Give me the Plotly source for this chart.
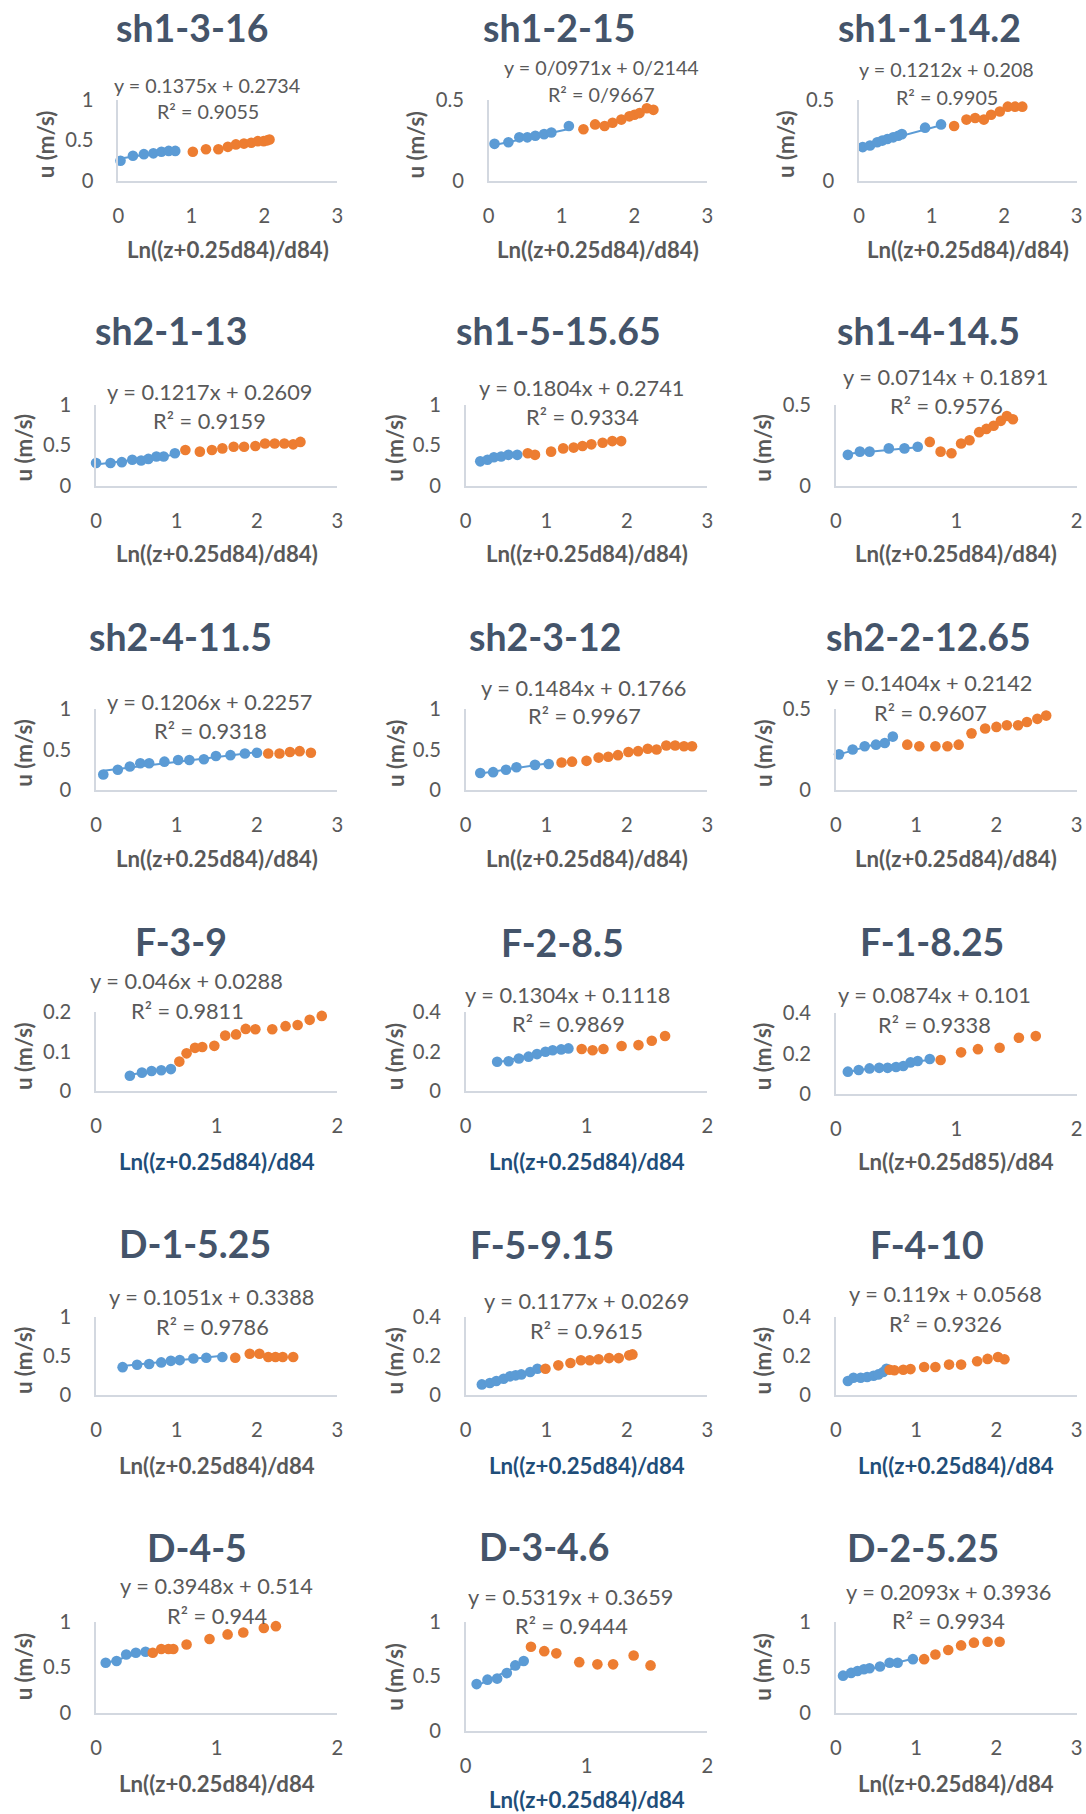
import plotly.graph_objects as go

# ---------------- DATA ----------------
TITLES = ["sh1-3-16", "sh1-2-15", "sh1-1-14.2",
          "sh2-1-13", "sh1-5-15.65", "sh1-4-14.5",
          "sh2-4-11.5", "sh2-3-12", "sh2-2-12.65",
          "F-3-9", "F-2-8.5", "F-1-8.25",
          "D-1-5.25", "F-5-9.15", "F-4-10",
          "D-4-5", "D-3-4.6", "D-2-5.25"]

X_TITLES = ["Ln((z+0.25d84)/d84)"] * 9 + [
    "Ln((z+0.25d84)/d84", "Ln((z+0.25d84)/d84", "Ln((z+0.25d85)/d84",
    "Ln((z+0.25d84)/d84", "Ln((z+0.25d84)/d84", "Ln((z+0.25d84)/d84",
    "Ln((z+0.25d84)/d84", "Ln((z+0.25d84)/d84", "Ln((z+0.25d84)/d84"]
Y_TITLE = "u (m/s)"

SLOPES = [0.1375, 0.0971, 0.1212, 0.1217, 0.1804, 0.0714, 0.1206, 0.1484, 0.1404,
          0.046, 0.1304, 0.0874, 0.1051, 0.1177, 0.119, 0.3948, 0.5319, 0.2093]
INTERCEPTS = [0.2734, 0.2144, 0.208, 0.2609, 0.2741, 0.1891, 0.2257, 0.1766, 0.2142,
              0.0288, 0.1118, 0.101, 0.3388, 0.0269, 0.0568, 0.514, 0.3659, 0.3936]
EQ_TEXT = ["y = 0.1375x + 0.2734", "y = 0/0971x + 0/2144", "y = 0.1212x + 0.208",
           "y = 0.1217x + 0.2609", "y = 0.1804x + 0.2741", "y = 0.0714x + 0.1891",
           "y = 0.1206x + 0.2257", "y = 0.1484x + 0.1766", "y = 0.1404x + 0.2142",
           "y = 0.046x + 0.0288", "y = 0.1304x + 0.1118", "y = 0.0874x + 0.101",
           "y = 0.1051x + 0.3388", "y = 0.1177x + 0.0269", "y = 0.119x + 0.0568",
           "y = 0.3948x + 0.514", "y = 0.5319x + 0.3659", "y = 0.2093x + 0.3936"]
R2_TEXT = ["R² = 0.9055", "R² = 0/9667", "R² = 0.9905",
           "R² = 0.9159", "R² = 0.9334", "R² = 0.9576",
           "R² = 0.9318", "R² = 0.9967", "R² = 0.9607",
           "R² = 0.9811", "R² = 0.9869", "R² = 0.9338",
           "R² = 0.9786", "R² = 0.9615", "R² = 0.9326",
           "R² = 0.944", "R² = 0.9444", "R² = 0.9934"]

X_MAX = [3, 3, 3, 3, 3, 2, 3, 3, 3, 2, 2, 2, 3, 3, 3, 2, 2, 3]
Y_MAX = [1, 0.5, 0.5, 1, 1, 0.5, 1, 1, 0.5, 0.2, 0.4, 0.4, 1, 0.4, 0.4, 1, 1, 1]
Y_STEP = [0.5, 0.5, 0.5, 0.5, 0.5, 0.5, 0.5, 0.5, 0.5, 0.1, 0.2, 0.2, 0.5, 0.2, 0.2, 0.5, 0.5, 0.5]

p1_bx = [0.03, 0.20, 0.35, 0.48, 0.59, 0.69, 0.78]
p1_by = [0.25, 0.31, 0.33, 0.34, 0.36, 0.37, 0.37]
p1_ox = [1.02, 1.20, 1.37, 1.50, 1.61, 1.72, 1.82, 1.91, 1.99, 2.04, 2.07]
p1_oy = [0.36, 0.39, 0.39, 0.42, 0.45, 0.46, 0.47, 0.49, 0.49, 0.50, 0.51]

p2_bx = [0.08, 0.27, 0.42, 0.53, 0.64, 0.76, 0.86, 1.10]
p2_by = [0.23, 0.24, 0.27, 0.27, 0.28, 0.29, 0.30, 0.34]
p2_ox = [1.30, 1.46, 1.59, 1.70, 1.82, 1.93, 2.00, 2.07, 2.17, 2.26]
p2_oy = [0.32, 0.35, 0.34, 0.36, 0.38, 0.40, 0.41, 0.42, 0.45, 0.44]

p3_bx = [0.05, 0.15, 0.25, 0.32, 0.39, 0.47, 0.54, 0.59, 0.91, 1.13]
p3_by = [0.21, 0.22, 0.24, 0.25, 0.26, 0.27, 0.28, 0.29, 0.33, 0.35]
p3_ox = [1.31, 1.48, 1.60, 1.72, 1.82, 1.94, 2.05, 2.15, 2.25]
p3_oy = [0.34, 0.38, 0.39, 0.38, 0.41, 0.43, 0.46, 0.46, 0.46]

p4_bx = [0.0, 0.18, 0.32, 0.45, 0.56, 0.65, 0.75, 0.84, 0.98]
p4_by = [0.28, 0.28, 0.29, 0.32, 0.31, 0.33, 0.36, 0.36, 0.40]
p4_ox = [1.11, 1.29, 1.44, 1.57, 1.71, 1.84, 1.98, 2.10, 2.22, 2.34, 2.45, 2.54]
p4_oy = [0.44, 0.42, 0.44, 0.46, 0.48, 0.48, 0.49, 0.52, 0.52, 0.52, 0.51, 0.54]

p5_bx = [0.18, 0.27, 0.35, 0.44, 0.53, 0.64]
p5_by = [0.30, 0.32, 0.35, 0.36, 0.38, 0.38]
p5_ox = [0.77, 0.86, 1.06, 1.21, 1.34, 1.45, 1.56, 1.70, 1.82, 1.93]
p5_oy = [0.40, 0.38, 0.42, 0.46, 0.47, 0.49, 0.51, 0.53, 0.55, 0.55]

p6_bx = [0.10, 0.20, 0.28, 0.44, 0.57, 0.68]
p6_by = [0.19, 0.21, 0.21, 0.23, 0.23, 0.24]
p6_ox = [0.78, 0.87, 0.96, 1.04, 1.11, 1.19, 1.25, 1.31, 1.37, 1.42, 1.47]
p6_oy = [0.27, 0.21, 0.20, 0.26, 0.28, 0.33, 0.35, 0.37, 0.40, 0.43, 0.41]

p7_bx = [0.09, 0.27, 0.42, 0.55, 0.66, 0.85, 1.02, 1.16, 1.34, 1.49, 1.67, 1.85, 2.00]
p7_by = [0.19, 0.25, 0.29, 0.33, 0.33, 0.35, 0.37, 0.37, 0.38, 0.42, 0.43, 0.45, 0.46]
p7_ox = [2.14, 2.28, 2.41, 2.53, 2.67]
p7_oy = [0.45, 0.45, 0.47, 0.48, 0.46]

p8_bx = [0.18, 0.34, 0.50, 0.63, 0.86, 1.03]
p8_by = [0.21, 0.22, 0.25, 0.28, 0.31, 0.32]
p8_ox = [1.19, 1.32, 1.50, 1.65, 1.77, 1.89, 2.02, 2.14, 2.26, 2.37, 2.49, 2.60, 2.71, 2.81]
p8_oy = [0.34, 0.35, 0.36, 0.40, 0.41, 0.43, 0.47, 0.48, 0.51, 0.50, 0.55, 0.55, 0.54, 0.54]

p9_bx = [0.04, 0.21, 0.36, 0.50, 0.61, 0.71]
p9_by = [0.22, 0.25, 0.27, 0.28, 0.29, 0.33]
p9_ox = [0.89, 1.04, 1.24, 1.39, 1.53, 1.69, 1.86, 2.00, 2.13, 2.27, 2.38, 2.51, 2.62]
p9_oy = [0.28, 0.27, 0.27, 0.27, 0.28, 0.35, 0.38, 0.39, 0.40, 0.40, 0.42, 0.44, 0.46]

p10_bx = [0.28, 0.38, 0.46, 0.54, 0.62]
p10_by = [0.039, 0.047, 0.051, 0.053, 0.056]
p10_ox = [0.69, 0.75, 0.82, 0.88, 0.98, 1.07, 1.16, 1.24, 1.32, 1.46, 1.57, 1.67, 1.77, 1.87]
p10_oy = [0.075, 0.096, 0.110, 0.112, 0.115, 0.141, 0.144, 0.158, 0.157, 0.157, 0.165, 0.168, 0.181, 0.191]

p11_bx = [0.26, 0.355, 0.44, 0.52, 0.59, 0.66, 0.72, 0.79, 0.85]
p11_by = [0.149, 0.152, 0.166, 0.175, 0.188, 0.200, 0.208, 0.212, 0.217]
p11_ox = [0.96, 1.05, 1.14, 1.29, 1.43, 1.54, 1.65]
p11_oy = [0.214, 0.208, 0.214, 0.229, 0.234, 0.256, 0.280]

p12_bx = [0.10, 0.19, 0.28, 0.36, 0.43, 0.50, 0.56, 0.62, 0.68, 0.78]
p12_by = [0.110, 0.118, 0.126, 0.129, 0.129, 0.133, 0.138, 0.156, 0.163, 0.173]
p12_ox = [0.87, 1.04, 1.18, 1.36, 1.52, 1.66]
p12_oy = [0.168, 0.206, 0.222, 0.229, 0.279, 0.287]

p13_bx = [0.33, 0.51, 0.66, 0.81, 0.93, 1.04, 1.21, 1.37, 1.57]
p13_by = [0.36, 0.39, 0.40, 0.42, 0.44, 0.45, 0.47, 0.48, 0.49]
p13_ox = [1.73, 1.91, 2.03, 2.14, 2.23, 2.32, 2.45]
p13_oy = [0.48, 0.53, 0.53, 0.49, 0.49, 0.49, 0.49]

p14_bx = [0.20, 0.30, 0.38, 0.47, 0.55, 0.62, 0.69, 0.80, 0.89]
p14_by = [0.056, 0.063, 0.073, 0.085, 0.097, 0.102, 0.107, 0.119, 0.136]
p14_ox = [0.99, 1.15, 1.30, 1.43, 1.54, 1.65, 1.78, 1.90, 2.03, 2.07]
p14_oy = [0.136, 0.153, 0.165, 0.179, 0.179, 0.184, 0.190, 0.190, 0.204, 0.209]

p15_bx = [0.15, 0.22, 0.31, 0.39, 0.47, 0.53, 0.59, 0.63]
p15_by = [0.073, 0.090, 0.090, 0.094, 0.100, 0.107, 0.119, 0.136]
p15_ox = [0.67, 0.73, 0.84, 0.93, 1.10, 1.24, 1.41, 1.56, 1.76, 1.89, 2.02, 2.10]
p15_oy = [0.131, 0.128, 0.131, 0.134, 0.145, 0.145, 0.157, 0.157, 0.174, 0.186, 0.196, 0.184]

p16_bx = [0.08, 0.17, 0.25, 0.33, 0.41]
p16_by = [0.55, 0.57, 0.64, 0.66, 0.67]
p16_ox = [0.47, 0.54, 0.60, 0.64, 0.75, 0.94, 1.09, 1.22, 1.39, 1.49]
p16_oy = [0.66, 0.70, 0.70, 0.70, 0.75, 0.81, 0.86, 0.88, 0.93, 0.95]

p17_bx = [0.09, 0.18, 0.26, 0.34, 0.41, 0.48]
p17_by = [0.43, 0.47, 0.48, 0.53, 0.60, 0.64]
p17_ox = [0.54, 0.65, 0.75, 0.94, 1.09, 1.22, 1.39, 1.53]
p17_oy = [0.77, 0.73, 0.71, 0.63, 0.61, 0.61, 0.69, 0.60]

p18_bx = [0.09, 0.19, 0.27, 0.35, 0.42, 0.55, 0.67, 0.77, 0.96]
p18_by = [0.41, 0.44, 0.46, 0.48, 0.49, 0.51, 0.55, 0.55, 0.59]
p18_ox = [1.10, 1.24, 1.40, 1.56, 1.72, 1.89, 2.04]
p18_oy = [0.59, 0.64, 0.69, 0.74, 0.77, 0.78, 0.78]

BLUE_X = [p1_bx, p2_bx, p3_bx, p4_bx, p5_bx, p6_bx, p7_bx, p8_bx, p9_bx,
          p10_bx, p11_bx, p12_bx, p13_bx, p14_bx, p15_bx, p16_bx, p17_bx, p18_bx]
BLUE_Y = [p1_by, p2_by, p3_by, p4_by, p5_by, p6_by, p7_by, p8_by, p9_by,
          p10_by, p11_by, p12_by, p13_by, p14_by, p15_by, p16_by, p17_by, p18_by]
ORANGE_X = [p1_ox, p2_ox, p3_ox, p4_ox, p5_ox, p6_ox, p7_ox, p8_ox, p9_ox,
            p10_ox, p11_ox, p12_ox, p13_ox, p14_ox, p15_ox, p16_ox, p17_ox, p18_ox]
ORANGE_Y = [p1_oy, p2_oy, p3_oy, p4_oy, p5_oy, p6_oy, p7_oy, p8_oy, p9_oy,
            p10_oy, p11_oy, p12_oy, p13_oy, p14_oy, p15_oy, p16_oy, p17_oy, p18_oy]

# ---------------- LAYOUT (pixel positions) ----------------
W, H = 1086, 1814
# render correction (page is photographed slightly scaled)
SX, OX = 0.9906, 5.5
SY, OY = 0.986, 15.4
FS = 1 / 0.988


def fx(x):
    return ((x - OX) / SX) / W


def fy(y):
    return 1 - ((y - OY) / SY) / H


# plot area: left, right, bottom(y=0), top(y=max)
AREA = [
    (118, 337.5, 183.3, 102), (489, 708, 183.3, 102.5), (860, 1078, 183.3, 102.5),
    (95.7, 337.5, 487.7, 406.7), (466, 708, 487.7, 406.7), (836.7, 1078, 487.7, 406.7),
    (95.7, 337.5, 791.7, 711), (466, 708, 791.7, 711), (836.7, 1078, 791.7, 711),
    (95.7, 337.5, 1092.7, 1014), (466, 708, 1092.7, 1014), (836.7, 1078, 1095.3, 1015),
    (95.7, 337.5, 1396.7, 1318.3), (466, 708, 1396.7, 1318.3), (836.7, 1078, 1396.7, 1318.3),
    (95.7, 337.5, 1714.3, 1622.7), (466, 708, 1732.3, 1622.7), (836.7, 1078, 1714.3, 1622.7),
]
TITLE_POS = [(192, 30), (559, 30), (931, 30),
             (171, 333), (559, 333), (930, 333),
             (180, 638), (545, 638), (930, 638),
             (181, 943), (563, 944), (933, 943),
             (195, 1245), (542, 1246), (928, 1246),
             (197, 1549), (544, 1548), (924, 1549)]
EQ_POS = [(207, 88), (602, 70), (948, 72),
          (209, 394), (582, 390), (947, 379),
          (209, 704), (584, 690), (931, 685),
          (186, 983), (568, 997), (936, 997),
          (211, 1298), (587, 1302), (947, 1295),
          (216, 1587), (571, 1598), (950, 1593)]
R2_POS = [(208, 114), (602, 97), (948, 100),
          (209, 423), (583, 419), (948, 408),
          (210, 733), (585, 718), (932, 715),
          (187, 1013), (569, 1026), (936, 1027),
          (212, 1328), (587, 1332), (947, 1325),
          (217, 1617), (572, 1627), (950, 1622)]
YT_X = [45, 416, 787] + [23, 395, 763.5] * 5
YT_Y = [147, 147, 147, 450, 450, 450, 755, 755, 755, 1058, 1058, 1058,
        1362, 1362, 1362, 1668, 1678, 1668]
XT_Y = [252, 252, 252, 555, 555, 555, 860, 860, 860, 1163, 1163, 1163,
        1467, 1467, 1467, 1785, 1801, 1785]
BLUE_TITLE = {9, 10, 13, 14, 16}

FONT = "Lato"
TITLE_C = "#44546A"
TEXT_C = "#595959"
NAVY = "#1F4E79"
BLUE = "#5B9BD5"
ORANGE = "#ED7D31"
AXIS_C = "#D3D8E0"

fig = go.Figure()
annotations = []


def ann(text, x, y, size, color, weight="normal", angle=0):
    annotations.append(dict(text=text, x=fx(x), y=fy(y), xref="paper", yref="paper",
                            xanchor="center", yanchor="middle", showarrow=False,
                            textangle=angle,
                            font=dict(family=FONT, size=size * FS, color=color, weight=weight)))


for i in range(18):
    k = "" if i == 0 else str(i + 1)
    xa, ya = "x" + k, "y" + k
    left, right, bot, top = AREA[i]
    bx, by = BLUE_X[i], BLUE_Y[i]
    # trendline over the blue series
    lx = [min(bx), max(bx)]
    ly = [SLOPES[i] * v + INTERCEPTS[i] for v in lx]
    fig.add_trace(go.Scatter(x=lx, y=ly, mode="lines", xaxis=xa, yaxis=ya,
                             line=dict(color=BLUE, width=2), cliponaxis=False,
                             showlegend=False, hoverinfo="skip"))
    fig.add_trace(go.Scatter(x=bx, y=by, mode="markers", xaxis=xa, yaxis=ya,
                             marker=dict(color=BLUE, size=10.5 * FS), cliponaxis=False,
                             showlegend=False))
    fig.add_trace(go.Scatter(x=ORANGE_X[i], y=ORANGE_Y[i], mode="markers", xaxis=xa, yaxis=ya,
                             marker=dict(color=ORANGE, size=10.5 * FS), cliponaxis=False,
                             showlegend=False))
    common = dict(showgrid=False, zeroline=False, showline=True, linecolor=AXIS_C,
                  linewidth=1.5, ticks="outside", tickcolor="rgba(0,0,0,0)",
                  tickfont=dict(family=FONT, size=20 * FS, color=TEXT_C), fixedrange=True)
    fig.layout["xaxis" + k] = dict(domain=[fx(left), fx(right)], anchor=ya, ticklen=16,
                                   range=[0, X_MAX[i]], dtick=1, tick0=0, **common)
    fig.layout["yaxis" + k] = dict(domain=[fy(bot), fy(top)], anchor=xa, ticklen=19,
                                   range=[0, Y_MAX[i]], dtick=Y_STEP[i], tick0=0, **common)
    row1 = i < 3
    ann(TITLES[i], TITLE_POS[i][0], TITLE_POS[i][1], 37, TITLE_C, "bold")
    ann(EQ_TEXT[i], EQ_POS[i][0], EQ_POS[i][1], 19.5 if row1 else 21.5, TEXT_C)
    ann(R2_TEXT[i], R2_POS[i][0], R2_POS[i][1], 19.5 if row1 else 21.5, TEXT_C)
    ann(X_TITLES[i], (left + right) / 2, XT_Y[i], 22,
        NAVY if i in BLUE_TITLE else TEXT_C, "bold")
    ann(Y_TITLE, YT_X[i], YT_Y[i], 22, TEXT_C, "bold", -90)

fig.update_layout(width=W, height=H, autosize=False,
                  margin=dict(l=0, r=0, t=0, b=0),
                  paper_bgcolor="white", plot_bgcolor="white",
                  annotations=annotations, showlegend=False)

fig.write_html("out.html", config={"displayModeBar": False},
               post_script="document.body.style.margin='0';"
                           "document.body.style.overflow='hidden';")
